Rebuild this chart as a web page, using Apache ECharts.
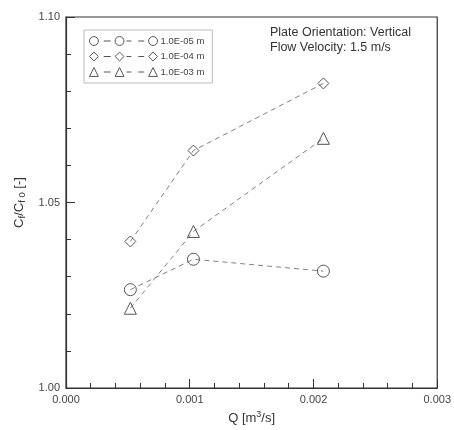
<!DOCTYPE html>
<html>
<head>
<meta charset="utf-8">
<script src="https://cdn.jsdelivr.net/npm/echarts@6/dist/echarts.min.js"></script>
<style>
  html, body { margin: 0; padding: 0; background: #fff; }
  #chart { width: 454px; height: 430px; }
</style>
</head>
<body>
<div id="chart"></div>
<script>
// flow rate Q [m3/s]
var flowRates = [0.00052, 0.00103, 0.00208];
// Cf/Cf0 for each roughness height
var rough1e5 = [1.0265, 1.0347, 1.0315];
var rough1e4 = [1.0395, 1.064, 1.0821];
var rough1e3 = [1.0215, 1.0422, 1.0673];
var seriesNames = ['1.0E-05 m', '1.0E-04 m', '1.0E-03 m'];

var ink = '#555';
var dash = '#808080';

// legend samples: symbol - symbol - symbol
var legendIcons = [
  'path://M0.5,5A4.5,4.5 0 1 1 9.5,5A4.5,4.5 0 1 1 0.5,5Z M15,5L22,5 M26.5,5A4.5,4.5 0 1 1 35.5,5A4.5,4.5 0 1 1 26.5,5Z M38,5L43,5 M50,5L56,5 M60.5,5A4.5,4.5 0 1 1 69.5,5A4.5,4.5 0 1 1 60.5,5Z',
  'path://M5,0.5L9.5,5L5,9.5L0.5,5Z M15,5L22,5 M31,0.5L35.5,5L31,9.5L26.5,5Z M38,5L43,5 M50,5L56,5 M65,0.5L69.5,5L65,9.5L60.5,5Z',
  'path://M5,0.5L9.5,9.5L0.5,9.5Z M15,5L22,5 M31,0.5L35.5,9.5L26.5,9.5Z M38,5L43,5 M50,5L56,5 M65,0.5L69.5,9.5L60.5,9.5Z'
];

function pairs(ys) {
  return flowRates.map(function (x, i) { return [x, ys[i]]; });
}

function makeSeries(name, ys, symbol, size) {
  return {
    name: name,
    type: 'line',
    data: pairs(ys),
    symbol: symbol,
    symbolSize: size,
    lineStyle: { color: dash, width: 1, type: [5, 4] },
    itemStyle: { color: 'transparent', borderColor: ink, borderWidth: 1 },
    emphasis: { disabled: true },
    z: 3
  };
}

var chart = echarts.init(document.getElementById('chart'), null, { renderer: 'canvas' });

chart.setOption({
  animation: false,
  textStyle: { fontFamily: 'Liberation Sans, Arial, sans-serif' },
  title: {
    text: 'Plate Orientation: Vertical\nFlow Velocity: 1.5 m/s',
    left: 270,
    top: 25,
    padding: 0,
    textStyle: { fontSize: 12.5, fontWeight: 'normal', color: '#333', lineHeight: 15 }
  },
  legend: {
    orient: 'vertical',
    left: 84,
    top: 30,
    padding: [6, 8, 6, 5],
    itemGap: 5.5,
    itemWidth: 68,
    itemHeight: 10,
    borderColor: '#bbb',
    borderWidth: 1,
    textStyle: { fontSize: 9.5, color: '#444', padding: [0, 0, 0, -2] },
    data: seriesNames.map(function (n, i) {
      return {
        name: n,
        icon: legendIcons[i],
        itemStyle: { color: 'transparent', borderColor: ink, borderWidth: 1 }
      };
    })
  },
  grid: {
    left: 66, right: 15, top: 17, bottom: 39,
    show: true, borderColor: '#333', borderWidth: 1.2, backgroundColor: 'transparent'
  },
  xAxis: {
    type: 'value',
    min: 0, max: 0.003, interval: 0.001,
    name: '{a|Q [m}{p|3}{a|/s]}',
    nameLocation: 'middle',
    nameGap: 22,
    nameTextStyle: {
      rich: {
        a: { fontSize: 13, color: '#333', lineHeight: 16 },
        p: { fontSize: 9, color: '#333', lineHeight: 16, verticalAlign: 'top', padding: [0, 0, 6, 0] }
      }
    },
    axisLine: { lineStyle: { color: '#333', width: 1.2 } },
    axisTick: { inside: true, length: 9, lineStyle: { color: '#333' } },
    minorTick: { show: true, splitNumber: 5, length: 5, lineStyle: { color: '#333' } },
    splitLine: { show: false },
    axisLabel: {
      fontSize: 11, color: '#444', margin: 6,
      formatter: function (v) { return v.toFixed(3); }
    }
  },
  yAxis: {
    type: 'value',
    min: 1.0, max: 1.1, interval: 0.05,
    name: '{a|C}{s|f}{a|/C}{s|f 0}{a| [-]}',
    nameLocation: 'middle',
    nameGap: 38,
    nameTextStyle: {
      rich: {
        a: { fontSize: 13, color: '#333', lineHeight: 16 },
        s: { fontSize: 9.5, color: '#333', lineHeight: 16, verticalAlign: 'bottom', padding: [5, 0, 0, 0] }
      }
    },
    axisLine: { lineStyle: { color: '#333', width: 1.2 } },
    axisTick: { inside: true, length: 9, lineStyle: { color: '#333' } },
    minorTick: { show: true, splitNumber: 5, length: 5, lineStyle: { color: '#333' } },
    splitLine: { show: false },
    axisLabel: {
      fontSize: 11, color: '#444', margin: 6,
      formatter: function (v) { return v.toFixed(2); }
    }
  },
  series: [
    makeSeries(seriesNames[0], rough1e5, 'circle', 12),
    makeSeries(seriesNames[1], rough1e4, 'diamond', 11),
    makeSeries(seriesNames[2], rough1e3, 'triangle', 12)
  ]
});
</script>
</body>
</html>
